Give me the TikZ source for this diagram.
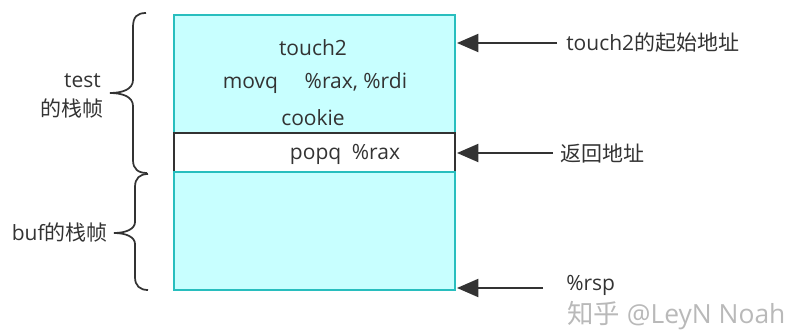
\documentclass[tikz,border=0pt]{standalone}
\usepackage{fontspec}
\setmainfont{Open Sans}
\newfontfamily\cjk{Noto Sans CJK SC}
\usetikzlibrary{arrows.meta}
\definecolor{cellfill}{RGB}{200,255,255}
\definecolor{celledge}{RGB}{40,190,190}
\definecolor{ink}{RGB}{51,51,51}
\definecolor{wmark}{RGB}{185,185,185}
\tikzset{
  cell/.style={draw=celledge, line width=1.7pt, fill=cellfill, minimum width=210.75pt, inner sep=0pt},
  retcell/.style={draw=ink, line width=1.7pt, fill=white, minimum width=210.75pt, minimum height=29.25pt, inner sep=0pt},
  txt/.style={text=ink, font=\fontsize{15.75pt}{18pt}\selectfont, inner sep=0pt},
  lbl/.style={txt, anchor=west},
  ptr/.style={draw=ink, line width=1.5pt, -{Triangle[length=16pt, width=13.5pt]}},
  curly/.style={draw=ink, line width=1.3pt}
}
\begin{document}
\begin{tikzpicture}[x=0.75pt, y=-0.75pt]
\useasboundingbox (0,0) rectangle (790,331);

% stack cells: test frame, return address slot, buf frame
\node[cell, minimum height=88.5pt] (top) at (314.5,74) {};
\node[retcell] (ret) at (314.5,152.5) {};
\node[cell, minimum height=88.5pt] (buf) at (314.5,231) {};

% contents of the cells
\node[txt] (t1) at (313,48) {touch2};
\node[txt] (t2) at (315,83) {movq\hspace{20pt}\%rax, \%rdi};
\node[txt] (t3) at (313,118) {cookie};
\node[txt] (t4) at (345,154) {popq\hspace{8pt}\%rax};

% pointer labels on the right
\node[lbl] (la) at (566,43) {touch2{\cjk 的起始地址}};
\node[lbl] (lb) at (560,154) {\cjk 返回地址};
\node[lbl] (lc) at (566,285) {\%rsp};

% pointer arrows
\coordinate (pa) at (457,43);
\coordinate (pb) at (457,153);
\coordinate (pc) at (457,288);
\coordinate (sa) at (557,43);
\coordinate (sb) at (553,153);
\coordinate (sc) at (543,288);
\draw[ptr] (sa) -- (pa);
\draw[ptr] (sb) -- (pb);
\draw[ptr] (sc) -- (pc);

% braces on the left
\draw[curly] (146,13) .. controls (137,13) and (133,17) .. (133,27)
  -- (133,80) .. controls (133,89) and (123,93) .. (110,93)
  .. controls (123,93) and (133,97) .. (133,106)
  -- (133,160) .. controls (133,169) and (138,173) .. (147,173);
\draw[curly] (148,174) .. controls (140,174) and (135,178) .. (135,187)
  -- (135,222) .. controls (135,229) and (126,233) .. (114,233)
  .. controls (126,233) and (135,237) .. (135,244)
  -- (135,277) .. controls (135,286) and (140,290) .. (148,290);

% frame labels
\node[txt, anchor=east] (ft1) at (101,81) {test};
\node[txt, anchor=east] (ft2) at (104,109) {\cjk 的栈帧};
\node[txt, anchor=east] (fb) at (108,233) {buf{\cjk 的栈帧}};

% watermark
\node[anchor=west, text=wmark, inner sep=0pt, font=\fontsize{19.8pt}{22pt}\selectfont] (wm) at (567,316) {{\cjk 知乎} @LeyN Noah};
\end{tikzpicture}
\end{document}
